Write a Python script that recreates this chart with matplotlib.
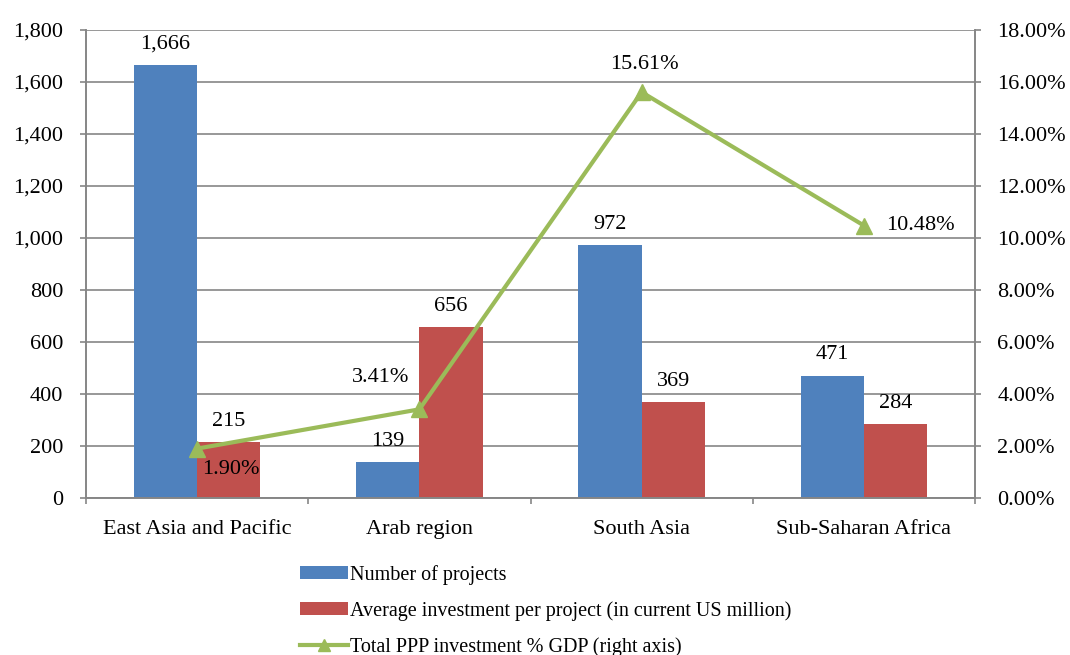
import matplotlib
matplotlib.use("Agg")
import matplotlib.pyplot as plt
import numpy as np
from matplotlib.patches import Patch
from matplotlib.lines import Line2D
from matplotlib.ticker import FuncFormatter, MultipleLocator

categories = ["East Asia and Pacific", "Arab region", "South Asia", "Sub-Saharan Africa"]
num_projects = [1666, 139, 972, 471]
avg_investment = [215, 656, 369, 284]
ppp_pct_gdp = [1.90, 3.41, 15.61, 10.48]

series_names = ["Number of projects",
                "Average investment per project (in current US million)",
                "Total PPP investment % GDP (right axis)"]

BLUE = "#4F81BD"
RED = "#C0504D"
GREEN = "#9BBB59"
GREY = "#868686"

plt.rcParams['font.family'] = ['Liberation Serif', 'DejaVu Serif']

fig = plt.figure(figsize=(10.7, 6.55), dpi=100)
ax = fig.add_axes([86/1070, 1-498/655, (975-86)/1070, (498-30)/655])
ax2 = ax.twinx()

x = np.arange(len(categories))
w = 0.285
ax.bar(x - w/2, num_projects, w, color=BLUE, zorder=2)
ax.bar(x + w/2, avg_investment, w, color=RED, zorder=2)

FS = 16
for xi, v in zip(x - w/2, num_projects):
    ax.annotate(f"{v:,}", (xi, v), xytext=(0, 15), textcoords="offset points",
                ha="center", va="center", fontsize=FS)
for xi, v in zip(x + w/2, avg_investment):
    ax.annotate(f"{v:,}", (xi, v), xytext=(0, 15), textcoords="offset points",
                ha="center", va="center", fontsize=FS)

ax.set_xlim(-0.5, len(categories) - 0.5)
ax.set_ylim(0, 1800)
ax.yaxis.set_major_locator(MultipleLocator(200))
ax.yaxis.set_major_formatter(FuncFormatter(lambda v, p: f"{int(v):,}"))
ax.grid(axis="y", color=GREY, linewidth=1.2, zorder=0)
ax.set_axisbelow(True)

ax.set_xticks(np.arange(len(categories) + 1) - 0.5)
ax.set_xticklabels([])
ax.set_xticks(x, minor=True)
ax.set_xticklabels(categories, minor=True, fontsize=FS)
ax.tick_params(axis="x", which="major", length=4.5, width=1.2, color=GREY, direction="out")
ax.tick_params(axis="x", which="minor", length=0, pad=16)
ax.tick_params(axis="y", length=4.5, width=1.2, color=GREY, direction="out", pad=12, labelsize=FS)

ax2.plot(x, ppp_pct_gdp, color=GREEN, linewidth=3, marker="^", markersize=12, zorder=3)
ax2.set_ylim(0, 18)
ax2.yaxis.set_major_locator(MultipleLocator(2))
ax2.yaxis.set_major_formatter(FuncFormatter(lambda v, p: f"{v:.2f}%"))
ax2.tick_params(axis="y", length=4.5, width=1.2, color=GREY, direction="out", pad=11.5, labelsize=FS)

offsets = [(24, -15, "center"), (-28, 23, "center"), (2, 20, "center"), (16, 0, "left")]
for xi, v, (dx, dy, ha) in zip(x, ppp_pct_gdp, offsets):
    ax2.annotate(f"{v:.2f}%", (xi, v), xytext=(dx, dy), textcoords="offset points",
                 ha=ha, va="center", fontsize=FS)

for a in (ax, ax2):
    for s in ("left", "right", "bottom"):
        a.spines[s].set_color(GREY)
        a.spines[s].set_linewidth(1.2)
    a.spines["top"].set_visible(False)

handles = [Patch(facecolor=BLUE, edgecolor="none"),
           Patch(facecolor=RED, edgecolor="none"),
           Line2D([0], [0], color=GREEN, linewidth=3, marker="^", markersize=9)]
fig.legend(handles, series_names, loc="upper left",
           bbox_to_anchor=(300/1070, 1-565/655), frameon=False, fontsize=14.5,
           handlelength=2.4, handleheight=0.6, handletextpad=0.08,
           labelspacing=0.8, borderpad=0, borderaxespad=0)

fig.savefig("out.png", dpi=100)
